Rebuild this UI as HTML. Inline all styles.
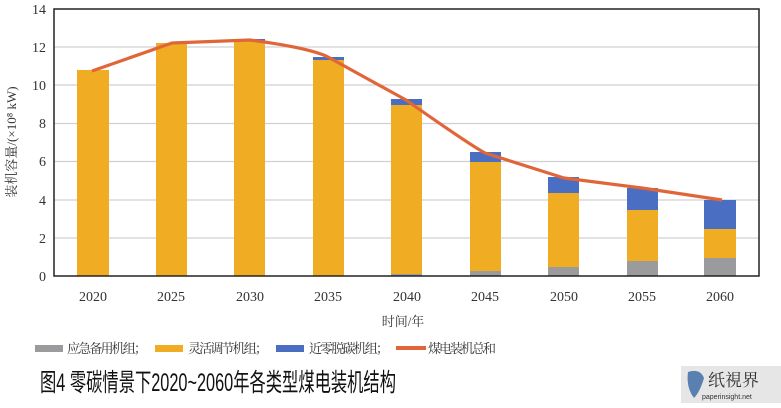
<!DOCTYPE html>
<html><head><meta charset="utf-8"><style>
body{margin:0;background:#fff;width:781px;height:403px;overflow:hidden}
text{font-family:"Liberation Serif","Noto Serif CJK SC",serif}
</style></head><body>
<svg width="781" height="403" viewBox="0 0 781 403" xmlns="http://www.w3.org/2000/svg">
<g stroke="#d0d0d0" stroke-width="1.2">
<line x1="54" x2="759" y1="47" y2="47"/><line x1="54" x2="759" y1="85" y2="85"/>
<line x1="54" x2="759" y1="123.5" y2="123.5"/><line x1="54" x2="759" y1="161.5" y2="161.5"/>
<line x1="54" x2="759" y1="200" y2="200"/><line x1="54" x2="759" y1="238" y2="238"/>
</g>
<g>
<rect x="77" y="70" width="32" height="206" fill="#f0ac22"/>
<rect x="156" y="43" width="31" height="233" fill="#f0ac22"/>
<rect x="234" y="41" width="31" height="235" fill="#f0ac22"/>
<rect x="234" y="39" width="31" height="2" fill="#4a6fc2"/>
<rect x="313" y="60" width="31" height="216" fill="#f0ac22"/>
<rect x="313" y="57" width="31" height="3" fill="#4a6fc2"/>
<rect x="391" y="274" width="31" height="2" fill="#9b9b9e"/>
<rect x="391" y="105" width="31" height="169" fill="#f0ac22"/>
<rect x="391" y="99" width="31" height="6" fill="#4a6fc2"/>
<rect x="470" y="271" width="31" height="5" fill="#9b9b9e"/>
<rect x="470" y="162" width="31" height="109" fill="#f0ac22"/>
<rect x="470" y="152" width="31" height="10" fill="#4a6fc2"/>
<rect x="548" y="267" width="31" height="9" fill="#9b9b9e"/>
<rect x="548" y="193" width="31" height="74" fill="#f0ac22"/>
<rect x="548" y="177" width="31" height="16" fill="#4a6fc2"/>
<rect x="627" y="261" width="31" height="15" fill="#9b9b9e"/>
<rect x="627" y="210" width="31" height="51" fill="#f0ac22"/>
<rect x="627" y="188" width="31" height="22" fill="#4a6fc2"/>
<rect x="704" y="258" width="32" height="18" fill="#9b9b9e"/>
<rect x="704" y="229" width="32" height="29" fill="#f0ac22"/>
<rect x="704" y="200" width="32" height="29" fill="#4a6fc2"/>
</g>
<path d="M92,71 L172,43 L250,40 Q310,48 328,57 L406,100 Q470,145 485,153 L564,178 L642,188 L722,200" fill="none" stroke="#e0663a" stroke-width="3.2" stroke-linejoin="round"/>
<path d="M54,9 L759,9 L759,276 L54,276 Z" fill="none" stroke="#222" stroke-width="1.5"/>
<g font-size="14" fill="#333" text-anchor="end">
<text x="46" y="281">0</text><text x="46" y="243">2</text><text x="46" y="205">4</text>
<text x="46" y="166">6</text><text x="46" y="128">8</text><text x="46" y="90">10</text>
<text x="46" y="52">12</text><text x="46" y="14">14</text>
</g>
<g font-size="14" fill="#333" text-anchor="middle">
<text x="93" y="301">2020</text><text x="171" y="301">2025</text><text x="250" y="301">2030</text>
<text x="328" y="301">2035</text><text x="407" y="301">2040</text><text x="485" y="301">2045</text>
<text x="564" y="301">2050</text><text x="642" y="301">2055</text><text x="720" y="301">2060</text>
</g>
<text transform="translate(16,142) rotate(-90)" font-size="13" fill="#333" text-anchor="middle">装机容量/(×10⁸ kW)</text>
<text x="403" y="326" font-size="13" fill="#333" text-anchor="middle">时间/年</text>
<g font-size="13" fill="#333">
<rect x="35" y="345" width="28" height="7" fill="#9b9b9e"/><text x="67" y="353" textLength="80" lengthAdjust="spacing">应急备用机组；</text>
<rect x="155" y="345" width="28" height="7" fill="#f0ac22"/><text x="188" y="353" textLength="80" lengthAdjust="spacing">灵活调节机组；</text>
<rect x="276" y="345" width="28" height="7" fill="#4a6fc2"/><text x="309" y="353" textLength="80" lengthAdjust="spacing">近零脱碳机组；</text>
<rect x="396" y="346" width="30" height="4" fill="#e0663a"/><text x="428" y="353" textLength="68" lengthAdjust="spacing">煤电装机总和</text>
</g>
<text x="40" y="391" font-size="25" fill="#111" style="font-family:'Liberation Sans','Noto Sans CJK SC',sans-serif" textLength="356" lengthAdjust="spacingAndGlyphs">图4 零碳情景下2020~2060年各类型煤电装机结构</text>
<rect x="681" y="366" width="100" height="37" fill="#e6e6e6"/>
<path d="M688,372 Q700,368 704,378 Q700,392 694,398 Q686,388 688,372Z" fill="#5a80b0"/>
<text x="708" y="386" font-size="17" fill="#333" style="font-family:'Noto Serif CJK SC',serif">纸視界</text>
<text x="702" y="399" font-size="7" fill="#333" style="font-family:'Liberation Sans',sans-serif">paperinsight.net</text>
</svg>
</body></html>
